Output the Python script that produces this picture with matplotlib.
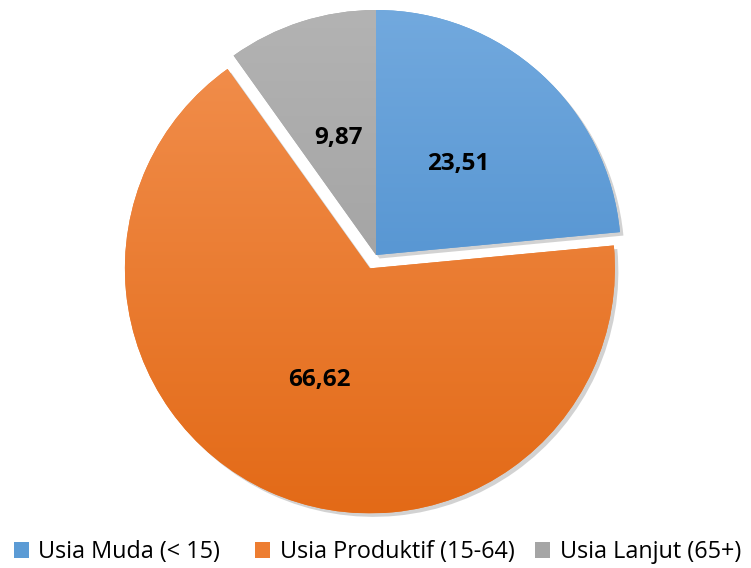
import matplotlib
matplotlib.use("Agg")
import matplotlib.pyplot as plt
import matplotlib.patheffects as pe
from matplotlib.colors import LinearSegmentedColormap
from matplotlib.patches import Patch
import numpy as np

# ── Data ────────────────────────────────────────────────────────────
categories = ["Usia Muda (< 15)", "Usia Produktif (15-64)", "Usia Lanjut (65+)"]
values = [23.51, 66.62, 9.87]
explode = [0.0, 0.06, 0.0]

# top / bottom colours of the vertical gradient on each slice
TOP = ["#72A9DE", "#F2904F", "#B3B3B3"]
BOTTOM = ["#3F85C8", "#E36A17", "#979797"]
BASE = ["#5B9BD5", "#ED7D31", "#A5A5A5"]

FONT = "Open Sans"

fig = plt.figure(figsize=(7.51, 5.68), dpi=100)
fig.patch.set_facecolor("white")

# pie radius = 245 px, centre at (376, 255) px from top-left
R = 245.0
half = 1.1 * R
ax = fig.add_axes([(376 - half) / 751, (313 - half) / 568, 2 * half / 751, 2 * half / 568])
ax.set_aspect("equal")
ax.axis("off")

wedges, texts, autotexts = ax.pie(
    values, explode=explode, colors=BASE, startangle=90, counterclock=False,
    autopct="%.2f", pctdistance=0.5, radius=1.0, frame=False,
    wedgeprops=dict(linewidth=0),
)

for w, v, t, top, bot in zip(wedges, values, autotexts, TOP, BOTTOM):
    w.set_path_effects([
        pe.SimplePatchShadow(offset=(2.5, -2.5), shadow_rgbFace="#7f7f7f", alpha=0.35),
        pe.Normal(),
    ])
    # gradient fill clipped to the wedge
    cmap = LinearSegmentedColormap.from_list("g", [bot, top])
    grad = np.linspace(0, 1, 256).reshape(-1, 1)
    cx, cy = w.center
    im = ax.imshow(grad, cmap=cmap, origin="lower", aspect="auto",
                   extent=(cx - 1, cx + 1, cy - 1, cy + 1), zorder=w.get_zorder() + 0.1,
                   interpolation="bilinear")
    im.set_clip_path(w)
    t.set_text(f"{v:.2f}".replace(".", ","))
    t.set_fontfamily(FONT)
    t.set_fontweight("bold")
    t.set_fontsize(17.5)
    t.set_color("black")
    t.set_zorder(5)

ax.set_xlim(-1.1, 1.1)
ax.set_ylim(-1.1, 1.1)

# legend entries placed one by one, as in the original layout
legend_x = [14, 255, 535]
for x, c, l in zip(legend_x, BASE, categories):
    fig.legend(handles=[Patch(facecolor=c, edgecolor="none", label=l)],
               loc="center left", bbox_to_anchor=(x / 751, 1 - 552 / 568),
               frameon=False, prop=dict(family=FONT, size=16.8),
               handlelength=0.65, handleheight=0.65, handletextpad=0.4,
               borderaxespad=0, borderpad=0)

plt.savefig("out.png", dpi=100, facecolor="white")
